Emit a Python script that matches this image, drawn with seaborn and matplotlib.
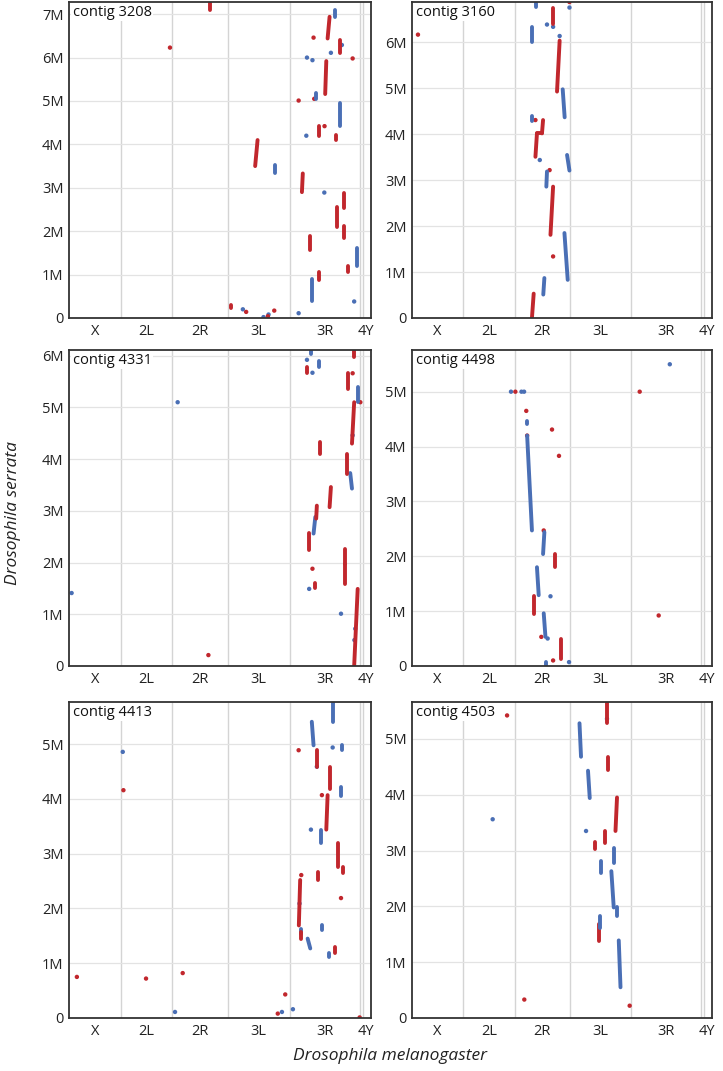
import numpy as np
import pandas as pd
import matplotlib
matplotlib.use("Agg")
import matplotlib.pyplot as plt
import seaborn as sns

# D. melanogaster arms (Mb, release 6) laid end to end on the x axis
arms = ["X", "2L", "2R", "3L", "3R", "4", "Y"]
arm_len = [23.54, 23.51, 25.29, 28.11, 32.08, 1.35, 3.67]
tick_names = ["X", "2L", "2R", "3L", "3R", "4Y"]

# segments: (mel start, mel end, serrata start, serrata end, strand)   all in Mb
# dots: (mel, serrata, strand)      strand "+" = red, "-" = blue
seg_3208 = [
    (64.3, 64.3, 7.1, 7.3, "+"), (84.8, 85.9, 3.5, 4.1, "+"), (93.9, 93.9, 3.34, 3.53, "-"),
    (106.1, 106.5, 2.9, 3.33, "+"), (125.1, 125.1, 2.53, 2.88, "+"), (122.0, 122.0, 2.09, 2.55, "+"),
    (125.1, 125.1, 1.84, 2.12, "+"), (109.6, 109.6, 1.57, 1.89, "+"), (131.2, 131.2, 1.19, 1.61, "-"),
    (127.0, 127.0, 1.07, 1.2, "+"), (114.1, 114.1, 0.88, 1.07, "+"), (110.6, 110.6, 0.38, 0.9, "-"),
    (73.7, 73.7, 0.22, 0.3, "+"), (123.6, 123.6, 6.1, 6.4, "+"), (117.8, 118.7, 6.44, 6.94, "+"),
    (121.0, 121.0, 6.94, 7.1, "-"), (116.7, 117.2, 5.16, 5.92, "+"), (112.5, 112.5, 5.05, 5.19, "-"),
    (123.3, 123.3, 4.43, 4.95, "-"), (114.0, 114.0, 4.2, 4.42, "+"), (121.7, 121.7, 4.09, 4.22, "+"),
]
dot_3208 = [
    (46.0, 6.23, "+"), (116.3, 2.89, "-"), (129.9, 0.38, "-"), (104.6, 0.11, "-"),
    (79.2, 0.2, "-"), (80.7, 0.14, "+"), (88.6, 0.02, "-"), (90.9, 0.08, "-"), (90.6, 0.04, "+"),
    (93.5, 0.17, "+"), (111.4, 6.46, "+"), (119.3, 6.11, "-"), (108.4, 6.0, "-"),
    (110.9, 5.94, "-"), (129.2, 5.98, "+"), (124.3, 6.29, "-"), (111.7, 5.05, "+"),
    (104.6, 5.01, "+"), (116.4, 4.42, "+"), (108.1, 4.2, "-"),
]

seg_3160 = [
    (57.0, 57.0, 6.78, 6.95, "-"), (64.7, 64.7, 6.41, 6.76, "+"), (54.9, 54.9, 6.01, 6.34, "-"),
    (66.5, 67.7, 4.93, 6.04, "+"), (70.0, 69.1, 4.37, 4.98, "-"), (55.0, 55.0, 4.3, 4.4, "-"),
    (59.6, 60.1, 4.02, 4.31, "+"), (57.3, 59.8, 4.02, 4.02, "+"), (56.6, 57.3, 3.51, 4.02, "+"),
    (72.2, 71.1, 3.21, 3.55, "-"), (61.6, 61.9, 2.86, 3.19, "-"), (63.5, 64.7, 1.81, 2.86, "+"),
    (71.4, 69.9, 0.83, 1.85, "-"), (60.2, 60.7, 0.51, 0.87, "-"), (55.0, 55.8, 0.0, 0.53, "+"),
]
dot_3160 = [
    (2.75, 6.17, "+"), (72.2, 6.88, "+"), (72.2, 6.76, "-"), (61.9, 6.39, "-"), (64.7, 6.34, "-"),
    (67.7, 6.14, "-"), (56.6, 4.31, "+"), (58.6, 3.44, "-"), (63.1, 3.22, "+"), (64.7, 1.34, "+"),
]

seg_4331 = [
    (110.3, 110.3, 6.03, 6.12, "-"), (108.4, 108.4, 5.66, 5.79, "+"), (114.1, 114.1, 5.78, 5.9, "-"),
    (129.9, 129.9, 5.97, 6.13, "+"), (127.1, 127.1, 5.36, 5.67, "+"), (131.6, 131.6, 5.1, 5.39, "-"),
    (128.9, 129.9, 4.3, 5.1, "+"), (114.4, 114.4, 4.1, 4.33, "+"), (126.6, 126.6, 3.72, 4.1, "+"),
    (128.9, 128.1, 3.43, 3.73, "-"), (118.7, 119.3, 3.07, 3.46, "+"), (112.6, 112.9, 2.85, 3.1, "+"),
    (111.4, 112.2, 2.56, 2.88, "-"), (109.1, 109.1, 2.25, 2.57, "+"), (125.5, 125.5, 1.98, 2.27, "+"),
    (125.8, 125.8, 1.59, 1.98, "+"), (111.9, 111.9, 1.51, 1.6, "+"), (129.9, 131.5, 0.0, 1.49, "+"),
]
dot_4331 = [
    (1.2, 1.41, "-"), (49.5, 5.1, "-"), (63.5, 0.21, "+"), (108.4, 5.92, "-"), (110.9, 5.67, "-"),
    (129.2, 5.66, "+"), (132.7, 5.1, "+"), (129.2, 4.46, "-"), (110.9, 1.88, "+"),
    (109.4, 1.49, "-"), (123.9, 1.01, "-"), (130.4, 0.72, "-"), (130.0, 0.5, "-"),
]

seg_4498 = [
    (52.8, 52.8, 4.41, 4.47, "-"), (55.0, 52.8, 2.47, 4.2, "-"), (60.1, 60.7, 2.04, 2.44, "-"),
    (65.7, 65.7, 1.8, 2.04, "+"), (58.1, 57.3, 1.29, 1.8, "-"), (55.8, 55.8, 0.95, 1.27, "+"),
    (61.2, 60.4, 0.53, 0.96, "-"), (68.5, 68.5, 0.13, 0.49, "+"), (61.3, 61.3, 0.0, 0.07, "-"),
]
dot_4498 = [
    (118.2, 5.5, "-"), (104.4, 5.0, "+"), (45.4, 5.0, "-"), (47.4, 5.0, "+"), (50.2, 5.0, "-"),
    (51.4, 5.0, "-"), (52.4, 4.65, "+"), (64.2, 4.31, "+"), (52.8, 4.2, "+"), (67.4, 3.83, "+"),
    (60.4, 2.47, "+"), (63.5, 1.27, "-"), (59.3, 0.53, "+"), (62.2, 0.5, "-"), (64.7, 0.1, "+"),
    (72.0, 0.07, "-"), (113.1, 0.92, "+"),
]

seg_4413 = [
    (120.2, 120.2, 5.41, 5.78, "-"), (111.4, 110.6, 4.98, 5.41, "-"), (124.3, 124.3, 4.89, 4.98, "-"),
    (112.9, 112.9, 4.59, 4.89, "+"), (118.7, 118.7, 4.19, 4.59, "+"), (123.9, 123.9, 4.05, 4.22, "-"),
    (117.2, 117.8, 3.44, 4.07, "+"), (114.7, 114.7, 3.19, 3.43, "-"), (122.5, 122.5, 2.76, 3.2, "+"),
    (124.8, 124.8, 2.65, 2.76, "+"), (113.2, 113.2, 2.52, 2.67, "+"), (104.7, 105.3, 1.69, 2.52, "+"),
    (105.8, 105.8, 1.54, 1.63, "-"), (105.8, 105.8, 1.45, 1.57, "+"), (109.9, 108.7, 1.27, 1.45, "-"),
    (115.2, 115.2, 1.6, 1.69, "-"), (121.3, 121.3, 1.19, 1.29, "+"), (118.5, 118.5, 1.11, 1.19, "-"),
]
dot_4413 = [
    (24.5, 4.86, "-"), (24.8, 4.16, "+"), (3.6, 0.75, "+"), (35.1, 0.72, "+"), (51.8, 0.82, "+"),
    (48.3, 0.11, "-"), (95.1, 0.08, "+"), (97.0, 0.11, "-"), (98.5, 0.43, "+"), (102.0, 0.16, "-"),
    (132.4, 0.01, "+"), (120.1, 4.94, "-"), (104.6, 4.89, "+"), (112.9, 4.59, "-"),
    (115.2, 4.07, "+"), (110.2, 3.44, "-"), (105.8, 2.61, "+"), (105.0, 2.09, "-"), (123.9, 2.19, "+"),
]

seg_4503 = [
    (89.4, 89.4, 5.28, 5.66, "+"), (77.5, 76.8, 4.68, 5.28, "-"), (89.8, 89.8, 4.44, 4.68, "+"),
    (81.5, 80.7, 3.94, 4.43, "-"), (93.3, 94.0, 3.35, 3.95, "+"), (88.7, 88.7, 3.14, 3.35, "+"),
    (83.8, 83.8, 3.02, 3.16, "+"), (92.5, 92.5, 2.78, 3.05, "-"), (86.7, 86.7, 2.6, 2.81, "-"),
    (92.5, 91.4, 1.98, 2.63, "-"), (94.0, 94.0, 1.83, 1.98, "-"), (85.9, 85.9, 1.38, 1.68, "+"),
    (86.1, 86.1, 1.62, 1.83, "-"), (95.6, 94.8, 0.55, 1.39, "-"),
]
dot_4503 = [
    (43.6, 5.42, "+"), (37.0, 3.56, "-"), (51.5, 0.33, "+"), (99.8, 0.22, "+"),
    (89.4, 5.36, "-"), (79.8, 3.35, "-"),
]

contigs = ["3208", "3160", "4331", "4498", "4413", "4503"]
segs = [seg_3208, seg_3160, seg_4331, seg_4498, seg_4413, seg_4503]
dots = [dot_3208, dot_3160, dot_4331, dot_4498, dot_4413, dot_4503]
y_max = [7.28, 6.88, 6.11, 5.76, 5.77, 5.66]

palette = {"+": "#c1272d", "-": "#4a6fb5"}

sns.set_style("white")
plt.rcParams["font.family"] = ["Open Sans", "DejaVu Sans"]

fig = plt.figure(figsize=(7.23, 10.71), dpi=100)

lefts = [0.0954, 0.5698]
widths = [0.4177, 0.415]
bottoms = [0.7031, 0.3782, 0.0495]
height = 0.295

bounds = np.cumsum([0] + arm_len)
centers = [(bounds[i] + bounds[i + 1]) / 2 for i in range(5)] + [(bounds[5] + bounds[7]) / 2 + 0.4]

for i, name in enumerate(contigs):
    r, c = divmod(i, 2)
    ax = fig.add_axes([lefts[c], bottoms[r], widths[c], height])

    rows = []
    for k, (x0, x1, y0, y1, s) in enumerate(segs[i]):
        rows.append({"seg": k, "mel": x0, "ser": y0, "strand": s})
        rows.append({"seg": k, "mel": x1, "ser": y1, "strand": s})
    seg_df = pd.DataFrame(rows)
    dot_df = pd.DataFrame(dots[i], columns=["mel", "ser", "strand"])

    # grid
    for b in bounds[1:-1]:
        ax.axvline(b, color="#d4d4d4", lw=1.0, zorder=0)
    for yv in range(0, 8):
        ax.axhline(yv, color="#e3e3e3", lw=0.9, zorder=0)

    sns.lineplot(data=seg_df, x="mel", y="ser", units="seg", estimator=None, hue="strand",
                 palette=palette, sort=False, lw=2.8, legend=False, ax=ax,
                 solid_capstyle="round")
    sns.scatterplot(data=dot_df, x="mel", y="ser", hue="strand", palette=palette,
                    s=10, linewidth=0, legend=False, ax=ax)

    ax.set_xlim(0, bounds[-1])
    ax.set_ylim(0, y_max[i])
    ax.set_xticks(centers)
    ax.set_xticklabels(tick_names)
    yt = list(range(0, int(y_max[i]) + 1))
    ax.set_yticks(yt)
    ax.set_yticklabels(["0" if v == 0 else f"{v}M" for v in yt])
    ax.tick_params(length=0, labelsize=10.5, colors="#222222", pad=4)
    ax.set_xlabel("")
    ax.set_ylabel("")
    for sp in ax.spines.values():
        sp.set_color("#333333")
        sp.set_linewidth(1.3)
    ax.text(0.012, 0.992, f"contig {name}", transform=ax.transAxes, ha="left", va="top",
            fontsize=10.5, color="#111111",
            bbox=dict(facecolor="white", edgecolor="none", pad=1.0))

fig.text(0.018, 0.521, "Drosophila serrata", rotation=90, ha="center", va="center",
         fontsize=12.5, style="italic", color="#222222")
fig.text(0.54, 0.014, "Drosophila melanogaster", ha="center", va="center",
         fontsize=12.5, style="italic", color="#222222")

fig.savefig("out.png", dpi=100)
